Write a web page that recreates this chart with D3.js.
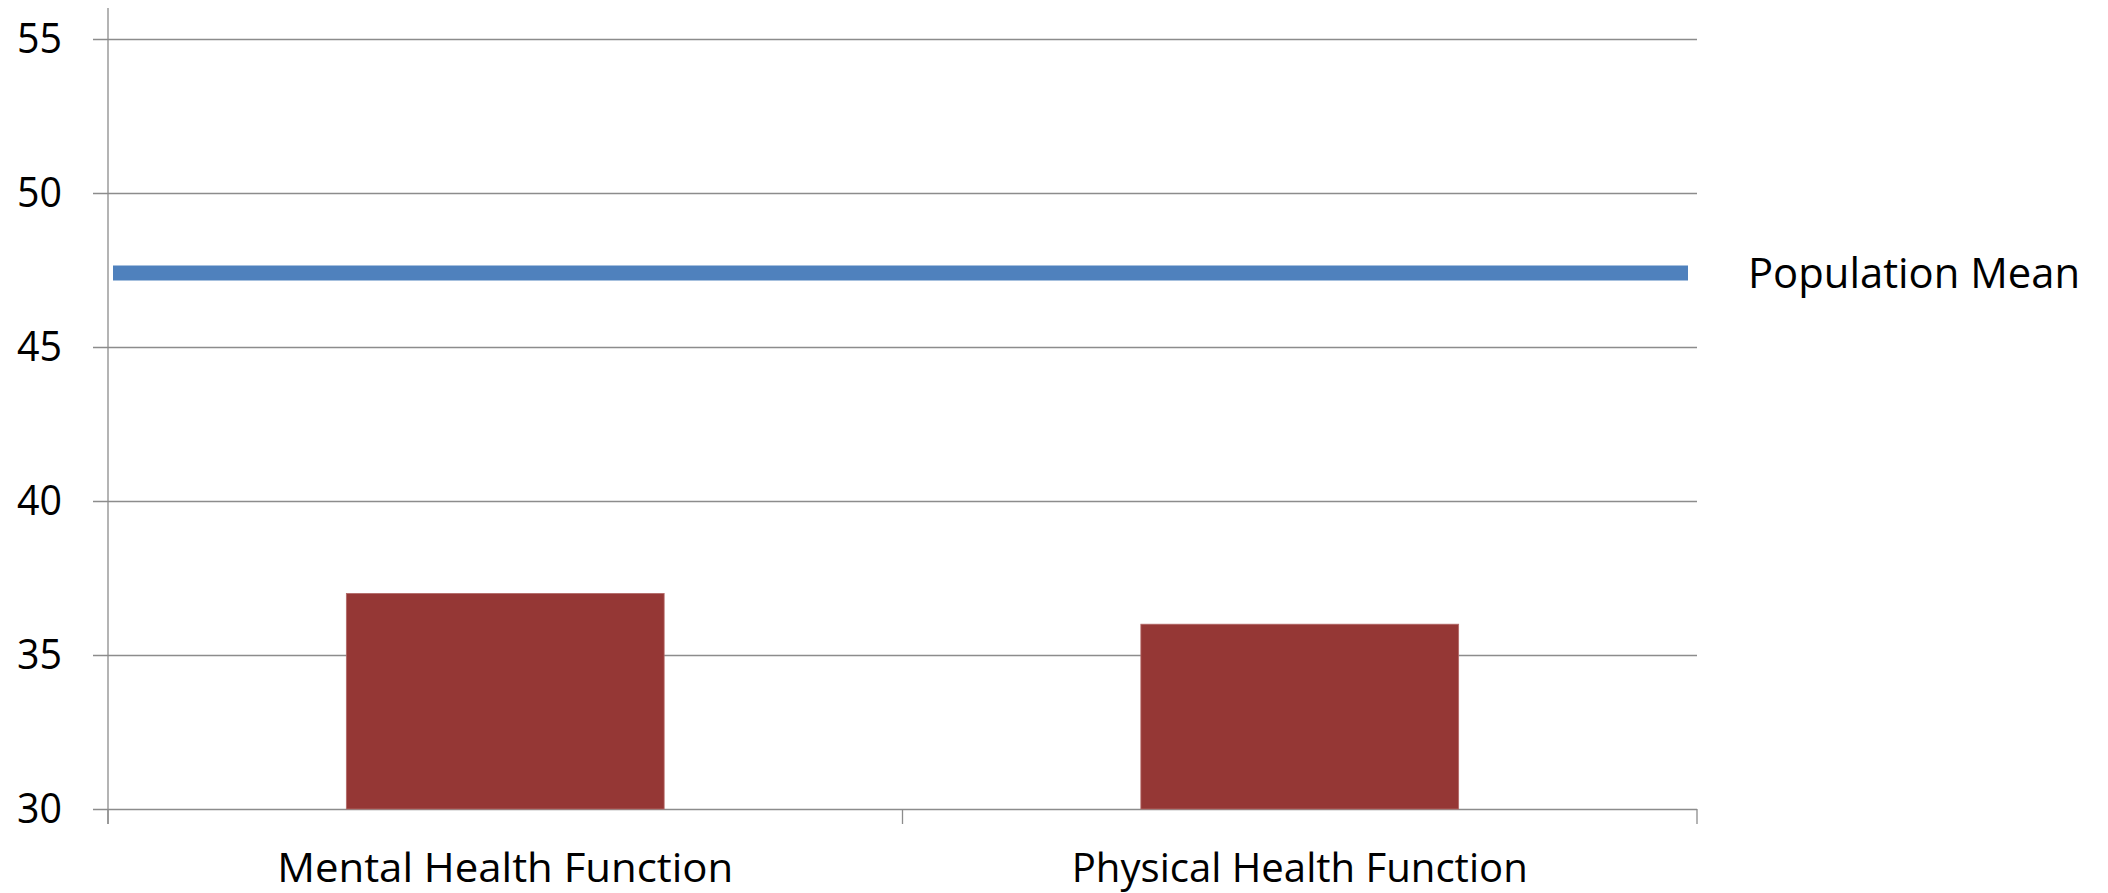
<!DOCTYPE html>
<html>
<head>
<meta charset="utf-8">
<script src="https://cdn.jsdelivr.net/npm/d3@7"></script>
<style>
  html, body { margin: 0; padding: 0; background: #fff; }
  svg { display: block; }
  text { font-family: "Open Sans", "Noto Sans", sans-serif; fill: #000; }
</style>
</head>
<body>
<svg id="chart" width="2108" height="893"></svg>
<script>
const categories = ["Mental Health Function", "Physical Health Function"];
const values = [37, 36];
const populationMean = 47.4;
const seriesLabel = "Population Mean";
const yTicks = [30, 35, 40, 45, 50, 55];
const yDomain = [30, 55];

const svg = d3.select("#chart");
const plot = { left: 108, right: 1697, top: 39, bottom: 809 };

const y = d3.scaleLinear().domain(yDomain).range([plot.bottom, plot.top]);
const x = d3.scaleBand().domain(categories).range([plot.left, plot.right])
  .paddingInner(0.6).paddingOuter(0.3);
const xEdges = d3.scaleLinear().domain([0, categories.length]).range([plot.left, plot.right]);

const gridColor = "#8c8c8c";

// Gridlines + y labels
const yAxis = d3.axisLeft(y).tickValues(yTicks)
  .tickSize(-(plot.right - (plot.left - 15)))
  .tickPadding(31)
  .tickFormat(d3.format("d"));
const gy = svg.append("g").attr("transform", `translate(${plot.left - 15},0)`).call(yAxis);
gy.select(".domain").remove();
gy.selectAll(".tick line").attr("stroke", gridColor).attr("stroke-width", 1.3);
gy.selectAll(".tick text").attr("font-size", 42).attr("fill", "#000")
  .style("font-family", '"Open Sans", sans-serif')
  .attr("textLength", 45).attr("lengthAdjust", "spacingAndGlyphs");

// vertical axis line
svg.append("line").attr("x1", plot.left).attr("x2", plot.left)
  .attr("y1", 8).attr("y2", plot.bottom + 15)
  .attr("stroke", gridColor).attr("stroke-width", 1.3);

// category tick marks
const edges = d3.range(categories.length + 1);
svg.selectAll("line.xtick").data(edges).join("line").attr("class", "xtick")
  .attr("x1", d => xEdges(d)).attr("x2", d => xEdges(d))
  .attr("y1", plot.bottom).attr("y2", plot.bottom + 15)
  .attr("stroke", gridColor).attr("stroke-width", 1.3);

// bars
svg.selectAll("rect.bar").data(values).join("rect").attr("class", "bar")
  .attr("x", (d, i) => x(categories[i]))
  .attr("width", x.bandwidth())
  .attr("y", d => y(d))
  .attr("height", d => y(yDomain[0]) - y(d))
  .attr("fill", "#953735")
  .attr("stroke", "#b46a68").attr("stroke-width", 0.8);

// category labels
svg.selectAll("text.cat").data(categories).join("text").attr("class", "cat")
  .attr("x", d => x(d) + x.bandwidth() / 2)
  .attr("y", 882)
  .attr("text-anchor", "middle")
  .attr("font-size", 40)
  .attr("textLength", 456).attr("lengthAdjust", "spacingAndGlyphs")
  .text(d => d);

// population mean line
svg.append("line")
  .attr("x1", plot.left + 5).attr("x2", plot.right - 9)
  .attr("y1", y(populationMean)).attr("y2", y(populationMean))
  .attr("stroke", "#4f81bd").attr("stroke-width", 15);

svg.append("text")
  .attr("x", 1748).attr("y", y(populationMean) + 15)
  .attr("font-size", 42)
  .attr("textLength", 332).attr("lengthAdjust", "spacingAndGlyphs")
  .text(seriesLabel);
</script>
</body>
</html>
